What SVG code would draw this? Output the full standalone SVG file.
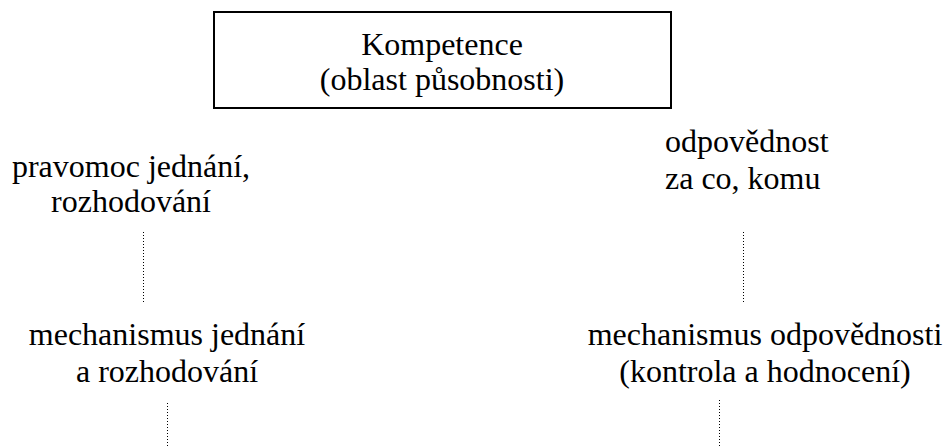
<svg xmlns="http://www.w3.org/2000/svg" width="946" height="448" viewBox="0 0 946 448">
<rect width="946" height="448" fill="#fff"/>
<g font-family="Liberation Serif, Times New Roman, serif" font-size="32" fill="#000">
<g id="kompetence" text-anchor="middle">
<rect x="214" y="12" width="457" height="96" fill="none" stroke="#000" stroke-width="2"/>
<text x="442" y="55">Kompetence</text>
<text x="442" y="90">(oblast působnosti)</text>
</g>
<g id="pravomoc" text-anchor="middle">
<text x="131" y="177">pravomoc jednání,</text>
<text x="131" y="212">rozhodování</text>
</g>
<g id="odpovednost">
<text x="665" y="152">odpovědnost</text>
<text x="665" y="189">za co, komu</text>
</g>
<g id="mech-jednani" text-anchor="middle">
<text x="167" y="345">mechanismus jednání</text>
<text x="167" y="382">a rozhodování</text>
</g>
<g id="mech-odpovednosti" text-anchor="middle">
<text x="765" y="345">mechanismus odpovědnosti</text>
<text x="765" y="382">(kontrola a hodnocení)</text>
</g>
</g>
<g id="connectors" stroke="#000" stroke-width="1" stroke-dasharray="1 2" fill="none">
<line x1="143.5" y1="232" x2="143.5" y2="302"/>
<line x1="743.5" y1="232" x2="743.5" y2="302"/>
<line x1="167.5" y1="403" x2="167.5" y2="448"/>
<line x1="719.5" y1="400" x2="719.5" y2="448"/>
</g>
</svg>
